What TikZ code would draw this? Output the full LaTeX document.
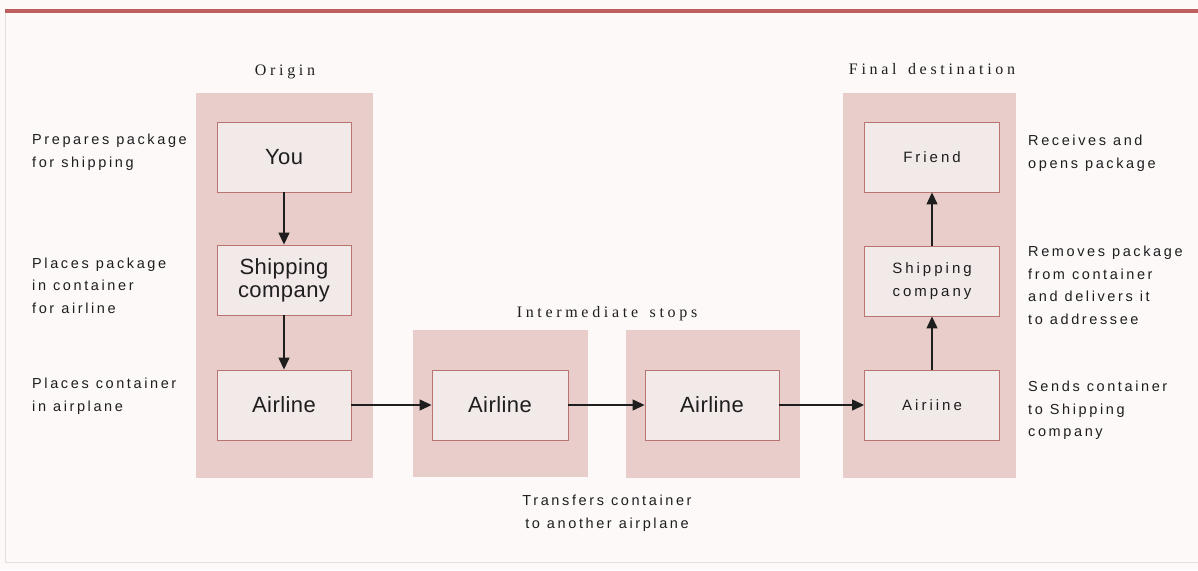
\documentclass[tikz,border=0pt]{standalone}
\usepackage{fontspec}
\setmainfont{Liberation Serif}
\newfontfamily\labfont[LetterSpace=18]{Liberation Sans}
\newfontfamily\bigboxfont[LetterSpace=2]{Liberation Sans}
\newfontfamily\smallboxfont[LetterSpace=20]{Liberation Sans}
\newfontfamily\hdfont[LetterSpace=23,WordSpace=1.5]{Liberation Serif}
\usetikzlibrary{arrows.meta}
\definecolor{bg}{RGB}{253,249,249}
\definecolor{col}{RGB}{232,205,203}
\definecolor{boxfill}{RGB}{242,233,233}
\definecolor{boxline}{RGB}{185,115,113}
\definecolor{topline}{RGB}{190,95,93}
\definecolor{ink}{RGB}{30,30,30}
\newcommand{\labsel}{\labfont\fontsize{14.5}{22.5}\selectfont\spaceskip=7pt plus 1pt minus 1pt\relax}
\begin{document}
\begin{tikzpicture}[x=1pt,y=-1pt,
  stepbox/.style={draw=boxline, fill=boxfill, line width=0.9pt, minimum width=134pt, minimum height=70pt, inner sep=0pt, align=center, text=ink},
  bigtxt/.style={font=\bigboxfont\fontsize{22}{23}\selectfont},
  smalltxt/.style={font=\smallboxfont\fontsize{15}{23}\selectfont},
  lab/.style={font=\labsel, align=left, inner sep=0pt, anchor=west, text=ink},
  hd/.style={font=\hdfont\fontsize{16}{18}\selectfont, inner sep=0pt, text=ink},
  arr/.style={draw=ink, line width=1.3pt, -{Triangle[length=12pt,width=11pt]}}
]
\useasboundingbox (0,0) rectangle (1198,570);
\fill[bg] (0,0) rectangle (1198,570);
\draw[topline, line width=4pt] (5,11) -- (1198,11);
\draw[black!12, line width=0.8pt] (5,13) -- (5,562) -- (1198,562);

% columns
\fill[col] (196,93) rectangle (373,478);
\fill[col] (413,330) rectangle (588,477);
\fill[col] (626,330) rectangle (800,478);
\fill[col] (843,93) rectangle (1016,478);

% headers
\node[hd] (horigin) at (285,72) {Origin};
\node[hd] (hinter) at (607,314) {Intermediate stops};
\node[hd] (hfinal) at (932,69) {Final destination};

% boxes
\node[stepbox, bigtxt] (you) at (284,157) {You};
\node[stepbox, bigtxt] (ship1) at (284,280) {Shipping\\company};
\node[stepbox, bigtxt] (air1) at (284,405) {Airline};
\node[stepbox, bigtxt, minimum width=136pt] (air2) at (500,405) {Airline};
\node[stepbox, bigtxt] (air3) at (712,405) {Airline};
\node[stepbox, smalltxt, minimum width=135pt] (friend) at (932,157) {Friend};
\node[stepbox, smalltxt, minimum width=135pt] (ship4) at (932,281) {Shipping\\company};
\node[stepbox, smalltxt, minimum width=135pt] (air4) at (932,405) {Airiine};

% arrows
\draw[arr] (you) -- (ship1);
\draw[arr] (ship1) -- (air1);
\draw[arr] (air1) -- (air2);
\draw[arr] (air2) -- (air3);
\draw[arr] (air3) -- (air4);
\draw[arr] (air4) -- (ship4);
\draw[arr] (ship4) -- (friend);

% labels
\node[lab] (l1) at (32,152) {Prepares package\\for shipping};
\node[lab] (l2) at (32,285.5) {Places package\\in container\\for airline};
\node[lab] (l3) at (32,396) {Places container\\in airplane};
\node[lab] (r1) at (1028,153) {Receives and\\opens package};
\node[lab] (r2) at (1028,285.5) {Removes package\\from container\\and delivers it\\to addressee};
\node[lab] (r3) at (1028,410.5) {Sends container\\to Shipping\\company};
\node[lab, anchor=center, align=center] (t1) at (607,513) {Transfers container\\to another airplane};
\end{tikzpicture}
\end{document}
